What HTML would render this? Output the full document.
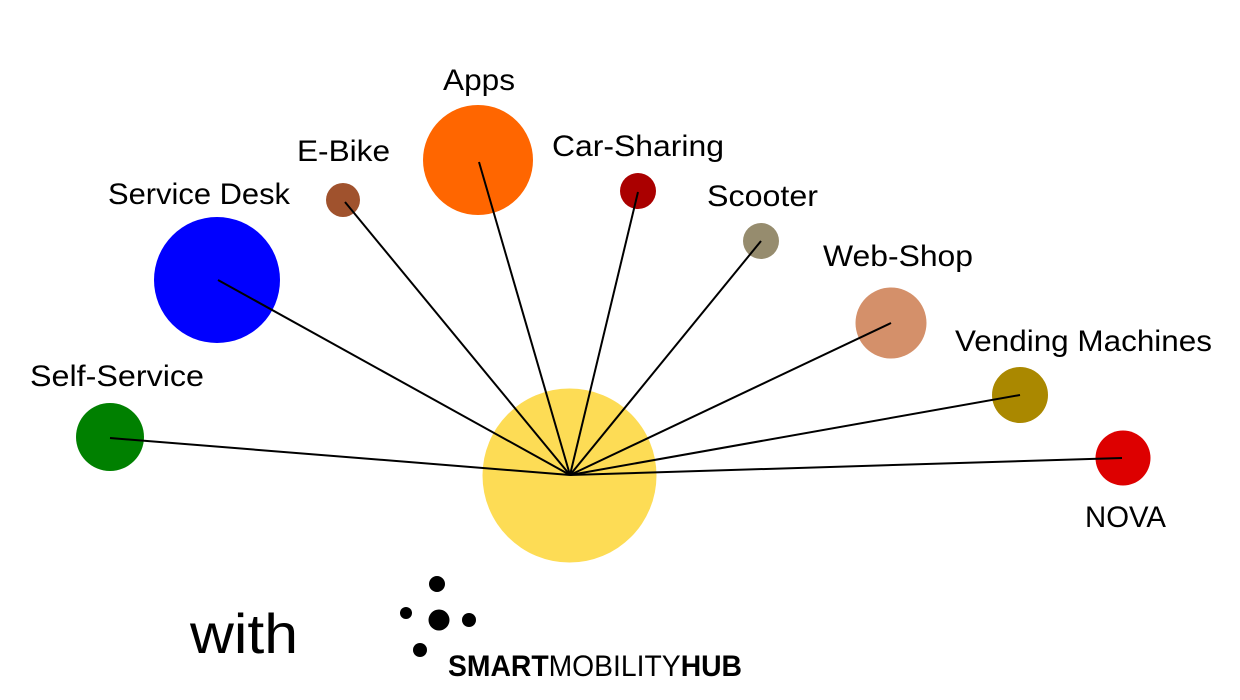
<!DOCTYPE html>
<html><head><meta charset="utf-8"><style>
html,body{margin:0;padding:0;background:#fff;}
svg{display:block;}
text{font-family:"Liberation Sans",sans-serif;fill:#000;}
</style></head><body>
<svg width="1240" height="700" viewBox="0 0 1240 700" xmlns="http://www.w3.org/2000/svg">
<rect width="1240" height="700" fill="#fff"/>
<circle cx="569.5" cy="475.5" r="87" fill="#fddc55"/>
<circle cx="217" cy="280" r="63" fill="#0000ff"/>
<circle cx="343" cy="200" r="17" fill="#a0522d"/>
<circle cx="478" cy="160" r="55" fill="#ff6600"/>
<circle cx="638" cy="191" r="18" fill="#aa0000"/>
<circle cx="761" cy="241" r="18" fill="#968c6e"/>
<circle cx="891" cy="323" r="35.5" fill="#d4906a"/>
<circle cx="1020" cy="395" r="28" fill="#aa8800"/>
<circle cx="1123" cy="458" r="27.5" fill="#dd0000"/>
<circle cx="110" cy="437" r="34" fill="#008000"/>
<g stroke="#000" stroke-width="2" fill="none">
<line x1="570" y1="475" x2="218" y2="280"/>
<line x1="570" y1="475" x2="345" y2="202"/>
<line x1="570" y1="475" x2="479" y2="162"/>
<line x1="570" y1="475" x2="638" y2="192"/>
<line x1="570" y1="475" x2="761" y2="241"/>
<line x1="570" y1="475" x2="891" y2="323"/>
<line x1="570" y1="475" x2="1020" y2="395"/>
<line x1="570" y1="475" x2="1122" y2="458"/>
<line x1="570" y1="475" x2="110" y2="438"/>
</g>
<g font-size="30">
<text x="443" y="90" textLength="72" lengthAdjust="spacingAndGlyphs">Apps</text>
<text x="297" y="161" textLength="93" lengthAdjust="spacingAndGlyphs">E-Bike</text>
<text x="108" y="204" textLength="182" lengthAdjust="spacingAndGlyphs">Service Desk</text>
<text x="552" y="156" textLength="172" lengthAdjust="spacingAndGlyphs">Car-Sharing</text>
<text x="707" y="206" textLength="111" lengthAdjust="spacingAndGlyphs">Scooter</text>
<text x="823" y="266" textLength="150" lengthAdjust="spacingAndGlyphs">Web-Shop</text>
<text x="955" y="351" textLength="257" lengthAdjust="spacingAndGlyphs">Vending Machines</text>
<text x="30" y="386" textLength="174" lengthAdjust="spacingAndGlyphs">Self-Service</text>
<text x="1085" y="527" textLength="81" lengthAdjust="spacingAndGlyphs">NOVA</text>
</g>
<text x="190" y="653" font-size="56" textLength="108" lengthAdjust="spacingAndGlyphs">with</text>
<g fill="#000">
<circle cx="437" cy="584" r="8"/>
<circle cx="406" cy="613" r="6"/>
<circle cx="439" cy="620" r="10.5"/>
<circle cx="469" cy="620" r="7"/>
<circle cx="420" cy="650" r="7"/>
</g>
<text x="448" y="676" font-size="30" textLength="294" lengthAdjust="spacingAndGlyphs"><tspan font-weight="bold">SMART</tspan><tspan font-weight="normal">MOBILITY</tspan><tspan font-weight="bold">HUB</tspan></text>
</svg>
</body></html>
